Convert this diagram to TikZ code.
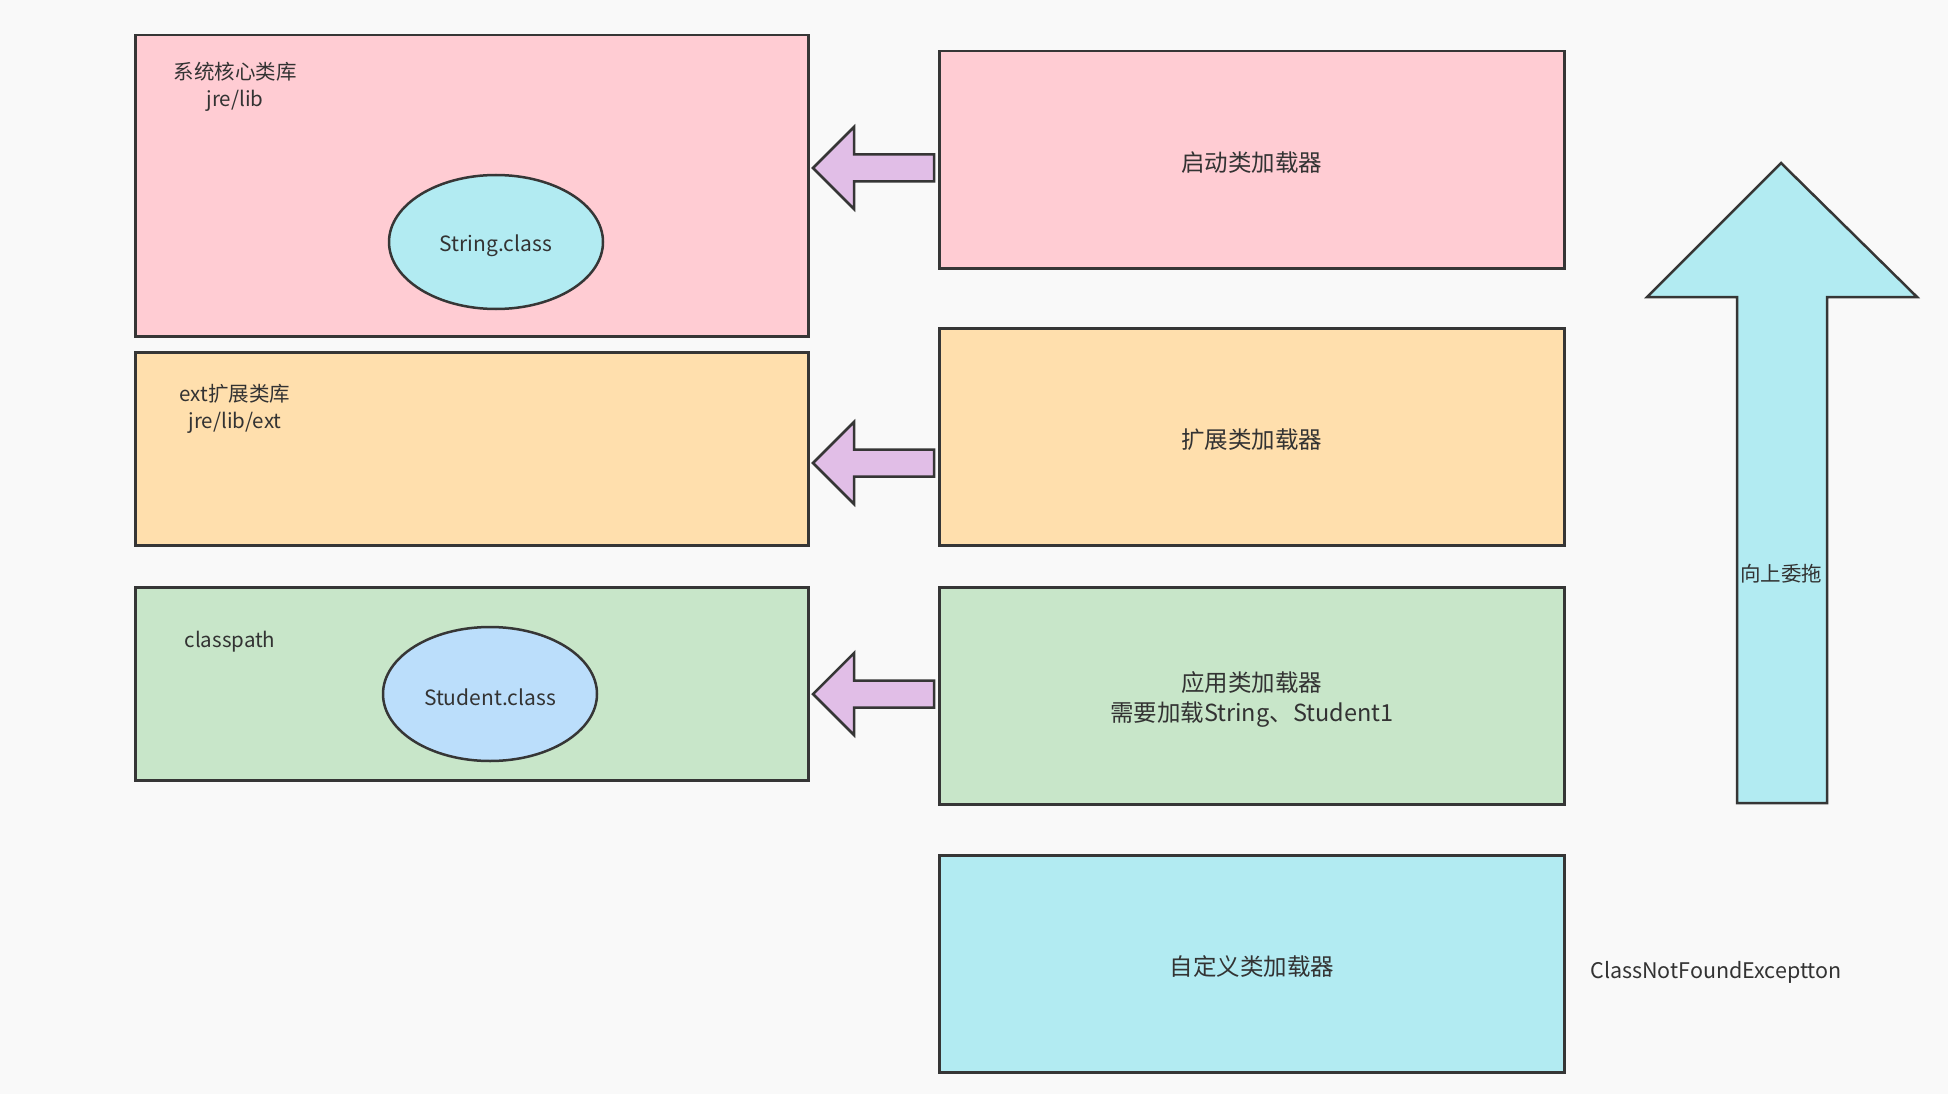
\documentclass[tikz,border=0pt]{standalone}
\usepackage{fontspec}
\setmainfont{Noto Sans CJK SC}
\usetikzlibrary{shapes.geometric}
\definecolor{bgc}{HTML}{F9F9F9}
\definecolor{pinkc}{HTML}{FFCCD3}
\definecolor{orangec}{HTML}{FFDFAD}
\definecolor{greenc}{HTML}{C8E6C9}
\definecolor{cyanc}{HTML}{B2EBF2}
\definecolor{bluec}{HTML}{BBDEFB}
\definecolor{purplec}{HTML}{E1BEE7}
\definecolor{linec}{HTML}{363636}
\definecolor{textc}{HTML}{333333}
\tikzset{
  box/.style={draw=linec, line width=2.5pt, inner sep=0pt, anchor=north west},
  boxtxt/.style={text=textc, align=center, inner sep=0pt, font=\fontsize{23.5}{30}\selectfont},
  oval/.style={ellipse, draw=linec, line width=2.5pt, inner sep=0pt},
  ovaltxt/.style={text=textc, inner sep=0pt, font=\fontsize{21}{26}\selectfont},
  lbl/.style={text=textc, align=center, inner sep=0pt, font=\fontsize{20.5}{27}\selectfont},
  blockarrow/.style={draw=linec, line width=2.5pt, line join=miter},
}
\begin{document}
\begin{tikzpicture}[x=1pt,y=-1pt]
\fill[bgc] (0,0) rectangle (1948,1094);
\useasboundingbox (0,0) rectangle (1948,1094);

% left boxes
\node[box, fill=pinkc, minimum width=673, minimum height=301] (lib) at (134,34) {};
\node[box, fill=orangec, minimum width=673, minimum height=193] (ext) at (134,351) {};
\node[box, fill=greenc, minimum width=673, minimum height=193] (cp) at (134,586) {};

\node[lbl] (libtxt) at (235,87) {系统核心类库\\jre/lib};
\node[lbl] (exttxt) at (235,409) {ext扩展类库\\jre/lib/ext};
\node[lbl] (cptxt) at (230,642) {classpath};

\node[oval, fill=cyanc, minimum width=214, minimum height=134] (str) at (496,242) {};
\node[oval, fill=bluec, minimum width=214, minimum height=134] (stu) at (490,694) {};
\node[ovaltxt] (strtxt) at ([yshift=-4pt]str.center) {String.class};
\node[ovaltxt] (stutxt) at ([yshift=-3pt]stu.center) {Student.class};

% right boxes
\node[box, fill=pinkc, minimum width=625, minimum height=217] (boot) at (938,50) {};
\node[box, fill=orangec, minimum width=625, minimum height=217] (extl) at (938,327) {};
\node[box, fill=greenc, minimum width=625, minimum height=217] (appl) at (938,586) {};
\node[box, fill=cyanc, minimum width=625, minimum height=217] (cust) at (938,854) {};

\node[boxtxt] (boottxt) at ([yshift=-3pt]boot.center) {启动类加载器};
\node[boxtxt] (extltxt) at ([yshift=-3pt]extl.center) {扩展类加载器};
\node[boxtxt] (appltxt) at ([yshift=-4pt]appl.center) {应用类加载器\\需要加载String、Student1};
\node[boxtxt] (custtxt) at ([yshift=-3pt]cust.center) {自定义类加载器};

% left-pointing block arrows
\foreach \c/\n in {168/a1,463/a2,694/a3}{
  \draw[blockarrow, fill=purplec] (813,\c) -- (854,\c-41) -- (854,\c-13.5) -- (934,\c-13.5)
    -- (934,\c+13.5) -- (854,\c+13.5) -- (854,\c+41) -- cycle;
}

% up arrow
\draw[blockarrow, fill=cyanc] (1781,163) -- (1917,297) -- (1827,297) -- (1827,803)
  -- (1737,803) -- (1737,297) -- (1647,297) -- cycle;
\node[lbl] (up) at (1781,574) {向上委拖};

\node[lbl, font=\fontsize{21.5}{27}\selectfont] (cnf) at (1716,972) {ClassNotFoundExceptton};
\end{tikzpicture}
\end{document}
